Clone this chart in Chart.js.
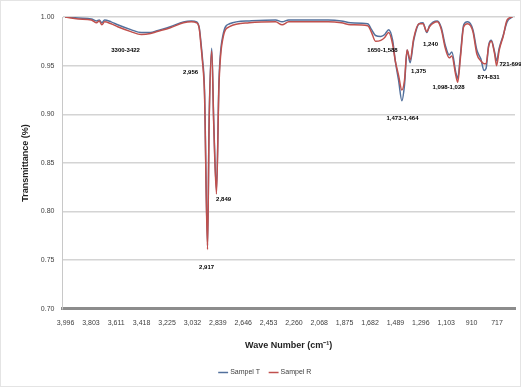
<!DOCTYPE html>
<html>
<head>
<meta charset="utf-8">
<script src="https://cdn.jsdelivr.net/npm/chart.js@4"></script>
<style>
  html, body { margin: 0; padding: 0; background: #fff; }
  #wrap { width: 521px; height: 387px; }
</style>
</head>
<body>
<div id="wrap"><canvas id="grafico_ftir"></canvas></div>
<script>
// wave numbers (cm-1)
const waveNumbers = [4000, 3900, 3800, 3760, 3740, 3720, 3700, 3650, 3600, 3500, 3420, 3350, 3300, 3200, 3100, 3040, 3000, 2980, 2965, 2956, 2940, 2917, 2905, 2885, 2870, 2849, 2830, 2800, 2750, 2600, 2400, 2350, 2300, 2000, 1900, 1830, 1700, 1670, 1640, 1600, 1570, 1540, 1510, 1490, 1465, 1440, 1420, 1400, 1377, 1350, 1310, 1280, 1250, 1230, 1170, 1140, 1110, 1080, 1060, 1030, 1015, 995, 970, 940, 900, 870, 840, 815, 800, 780, 760, 735, 720, 700, 670, 640, 600]

const sampelT = [1.000, 0.999, 0.998, 0.996, 0.997, 0.994, 0.997, 0.995, 0.992, 0.987, 0.984, 0.984, 0.986, 0.990, 0.995, 0.996, 0.995, 0.989, 0.971, 0.958, 0.925, 0.765, 0.893, 0.968, 0.893, 0.822, 0.935, 0.981, 0.993, 0.996, 0.997, 0.995, 0.997, 0.997, 0.996, 0.994, 0.993, 0.987, 0.981, 0.980, 0.982, 0.987, 0.976, 0.955, 0.935, 0.914, 0.930, 0.966, 0.953, 0.976, 0.993, 0.994, 0.984, 0.991, 0.996, 0.989, 0.971, 0.961, 0.964, 0.943, 0.937, 0.961, 0.992, 0.995, 0.987, 0.966, 0.957, 0.945, 0.947, 0.971, 0.976, 0.964, 0.955, 0.968, 0.981, 0.995, 1.000]

const sampelR = [1.000, 0.998, 0.997, 0.994, 0.996, 0.992, 0.995, 0.993, 0.990, 0.985, 0.982, 0.983, 0.985, 0.989, 0.994, 0.995, 0.994, 0.988, 0.968, 0.955, 0.920, 0.761, 0.890, 0.965, 0.890, 0.818, 0.930, 0.978, 0.990, 0.994, 0.995, 0.992, 0.995, 0.995, 0.994, 0.992, 0.991, 0.984, 0.975, 0.976, 0.979, 0.984, 0.972, 0.955, 0.940, 0.925, 0.935, 0.966, 0.956, 0.978, 0.993, 0.993, 0.985, 0.990, 0.995, 0.987, 0.968, 0.958, 0.960, 0.940, 0.933, 0.958, 0.990, 0.993, 0.985, 0.962, 0.955, 0.952, 0.952, 0.970, 0.975, 0.962, 0.950, 0.966, 0.980, 0.997, 1.000]

const xTicks = [3996, 3803, 3611, 3418, 3225, 3032, 2839, 2646, 2453, 2260, 2068, 1875, 1682, 1489, 1296, 1103, 910, 717]
const yTicks = [1.00, 0.95, 0.90, 0.85, 0.80, 0.75, 0.70]

// peak labels: text, wave number, transmittance where the text sits
const peakText = ['3300-3422', '2,956', '2,917', '2,849', '1650-1,588', '1,473-1,464', '1,375', '1,240', '1,098-1,028', '874-831', '721-699']
const peakWave = [3540, 3046, 2924, 2795, 1587, 1435, 1313, 1222, 1085, 781, 614]
const peakTrans = [0.966, 0.943, 0.743, 0.813, 0.966, 0.896, 0.944, 0.972, 0.928, 0.938, 0.951]

const ctx = document.getElementById('grafico_ftir')

Chart.defaults.font.family = '"Liberation Sans", Arial, sans-serif'
Chart.defaults.color = '#404040'

const toPoints = vals => waveNumbers.map((w, i) => ({ x: w, y: vals[i] }))

const peakLabels = {
  id: 'peakLabels',
  afterDatasetsDraw(chart) {
    const { ctx, scales: { x, y } } = chart
    ctx.save()
    ctx.font = 'bold 6px "Liberation Sans", Arial, sans-serif'
    ctx.fillStyle = '#000'
    ctx.textAlign = 'center'
    ctx.textBaseline = 'middle'
    peakText.forEach((t, i) => {
      ctx.fillText(t, x.getPixelForValue(peakWave[i]), y.getPixelForValue(peakTrans[i]))
    })
    ctx.restore()
  }
}

const frame = {
  id: 'frame',
  beforeDraw(chart) {
    const c = chart.ctx
    c.save()
    c.fillStyle = '#fff'
    c.fillRect(0, 0, chart.width, chart.height)
    c.strokeStyle = '#e4e4e4'
    c.strokeRect(0.5, 0.5, chart.width - 1, chart.height - 1)
    c.restore()
  }
}

const data = {
  datasets: [{
    label: 'Sampel R',
    data: toPoints(sampelR),
    borderColor: '#c0504d',
    backgroundColor: '#c0504d',
    borderWidth: 1.5,
    pointRadius: 0,
    cubicInterpolationMode: 'monotone'
  }, {
    label: 'Sampel T',
    data: toPoints(sampelT),
    borderColor: '#52709c',
    backgroundColor: '#52709c',
    borderWidth: 1.5,
    pointRadius: 0,
    cubicInterpolationMode: 'monotone'
  }]
}

const config = {
  type: 'line',
  data,
  plugins: [frame, peakLabels],
  options: {
    responsive: true,
    maintainAspectRatio: false,
    animation: false,
    layout: { padding: { left: 16, right: 6, top: 17, bottom: 1 } },
    plugins: {
      legend: {
        position: 'bottom',
        reverse: true,
        labels: {
          usePointStyle: true,
          pointStyle: 'line',
          boxWidth: 20,
          font: { size: 7 },
          padding: 10
        }
      },
      tooltip: { enabled: false }
    },
    scales: {
      x: {
        type: 'linear',
        reverse: true,
        min: 580,
        max: 4020,
        afterBuildTicks: axis => { axis.ticks = xTicks.map(v => ({ value: v })) },
        ticks: {
          autoSkip: false,
          maxRotation: 0,
          font: { size: 7 },
          padding: 2,
          callback: v => v.toLocaleString('en-US')
        },
        grid: { display: false },
        border: { display: true, color: '#8c8c8c', width: 3 },
        title: {
          display: true,
          text: 'Wave Number (cm⁻¹)',
          font: { size: 9, weight: 'bold' },
          color: '#222',
          padding: { top: 11, bottom: 8 }
        }
      },
      y: {
        min: 0.70,
        max: 1.00,
        afterBuildTicks: axis => { axis.ticks = yTicks.map(v => ({ value: v })) },
        ticks: {
          font: { size: 7 },
          padding: 8,
          callback: v => v.toFixed(2)
        },
        grid: { color: '#d4d4d4', lineWidth: 1.5, drawTicks: false },
        border: { display: true, color: '#c8c8c8', width: 1 },
        title: {
          display: true,
          text: 'Transmittance (%)',
          font: { size: 9, weight: 'bold' },
          color: '#222',
          padding: { bottom: 2 }
        }
      }
    }
  }
}

const graph = new Chart(ctx, config)
</script>
</body>
</html>
